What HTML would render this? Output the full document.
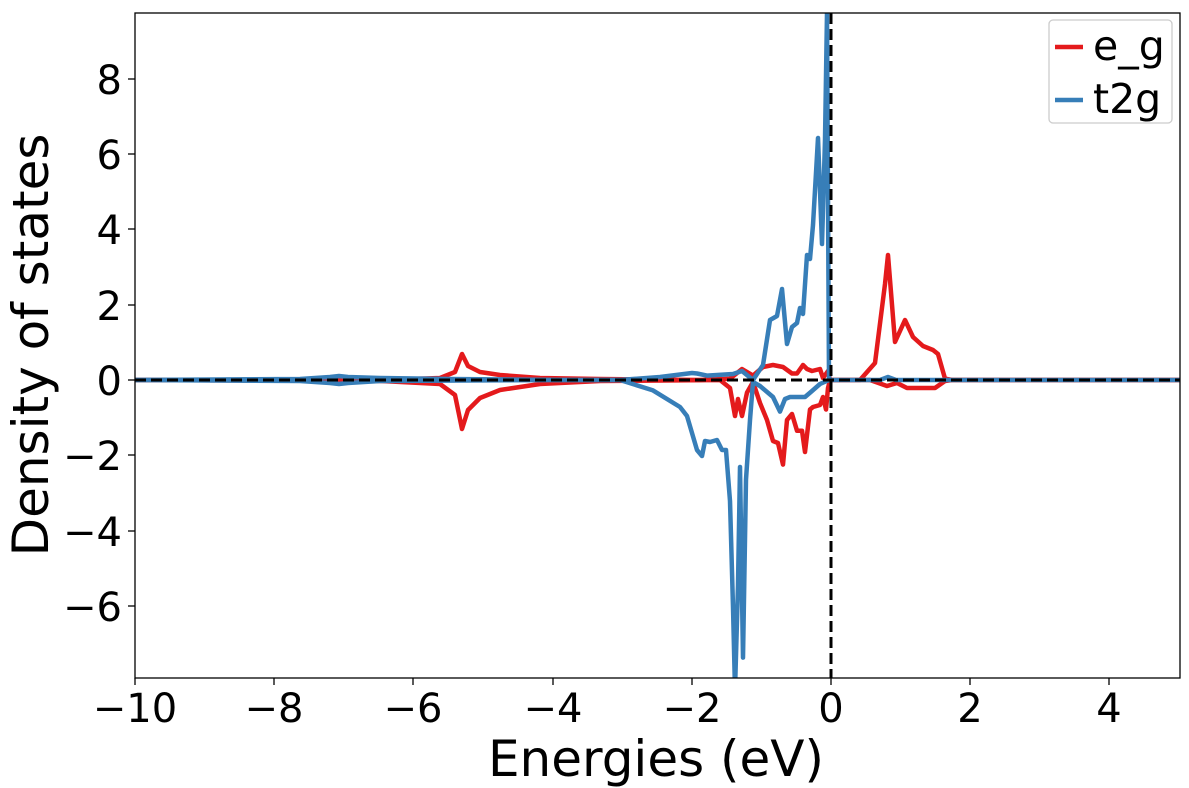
<!DOCTYPE html>
<html><head><style>body{margin:0;background:#fff}svg{display:block}text{font-family:"DejaVu Sans","Liberation Sans",sans-serif;fill:#000}</style></head>
<body>
<svg width="1189" height="788" viewBox="0 0 1189 788" xmlns="http://www.w3.org/2000/svg">
<defs><clipPath id="c"><rect x="135" y="13" width="1045" height="665"/></clipPath></defs>
<g clip-path="url(#c)" fill="none" stroke-width="4.5" stroke-linejoin="round">
<path stroke="#e41a1c" d="M135,380 L380,380 L440,378 L455,372 L462,354 L468,366 L480,372 L500,375 L540,378 L600,379 L700,380 L730,378.7 L742,369 L753,375.6 L763,367 L773,365 L783,367 L792,373.5 L797,373.5 L803,365 L807,369 L812,371 L820,369 L823,378 L828,371 L830,380 L860,380 L875,363 L885,284 L888,255 L895,342 L905,320 L913,337 L923,346 L933,350 L938,354 L945,378.6 L952,380 L1180,380"/>
<path stroke="#e41a1c" d="M135,380 L380,381 L440,384 L455,395 L462,429 L468,410 L480,398 L500,390 L540,384 L600,381 L720,380 L730,388 L735,416 L738,399 L742,416 L747,392.6 L753,382 L760,403 L767,420 L773,441 L778,443 L783,464.6 L787,420 L792,414 L797,430.7 L802,430.7 L805,452 L810,409.5 L813,407 L820,405 L823,397 L826,409.5 L828,388 L830,380 L870,380 L887,386 L897,383 L907,388 L935,388 L945,381 L952,380 L1180,380"/>
<path stroke="#377eb8" d="M135,380 L300,379 L330,377 L339,376 L348,377 L380,378 L450,379 L560,380 L620,380 L660,377 L692,373 L697,373.5 L707,375.6 L733,374 L742,371 L753,380 L763,365 L770,320 L777,316 L782,289 L787,344 L792,327 L797,323 L800,308 L803,314 L807,255 L810,259 L813,225 L818,138 L822,244 L825,140 L827,13 L829,380 L880,380 L888,377 L896,380 L1180,380"/>
<path stroke="#377eb8" d="M135,380 L300,381 L330,383 L339,384 L348,383 L380,381 L560,380 L620,380 L653,390.4 L680,407 L687,416 L697,450 L702,456 L705,441 L710,442 L717,440 L722,450 L726,450 L730,501 L733,607 L735,690 L738,585.5 L740,467 L743,657.6 L746,479.5 L750,420 L753,382 L760,386 L773,397 L780,411.6 L785,399 L790,397 L800,397 L805,397 L812,391 L820,384 L829,380"/>
<line x1="135" y1="380" x2="1180" y2="380" stroke="#000" stroke-width="3" stroke-dasharray="11,5"/>
<line x1="831" y1="13" x2="831" y2="678" stroke="#000" stroke-width="3" stroke-dasharray="11,5"/>
</g>
<rect x="135" y="13" width="1045" height="665" fill="none" stroke="#000" stroke-width="1.3"/>
<g stroke="#000" stroke-width="1.3">
<line x1="135" y1="678" x2="135" y2="685"/><line x1="274" y1="678" x2="274" y2="685"/><line x1="413" y1="678" x2="413" y2="685"/><line x1="553" y1="678" x2="553" y2="685"/><line x1="692" y1="678" x2="692" y2="685"/><line x1="831" y1="678" x2="831" y2="685"/><line x1="970" y1="678" x2="970" y2="685"/><line x1="1109" y1="678" x2="1109" y2="685"/>
<line x1="128" y1="79" x2="135" y2="79"/><line x1="128" y1="154" x2="135" y2="154"/><line x1="128" y1="229" x2="135" y2="229"/><line x1="128" y1="305" x2="135" y2="305"/><line x1="128" y1="380" x2="135" y2="380"/><line x1="128" y1="455" x2="135" y2="455"/><line x1="128" y1="531" x2="135" y2="531"/><line x1="128" y1="606" x2="135" y2="606"/>
</g>
<g font-size="40" text-anchor="middle">
<text x="135" y="722">−10</text><text x="274" y="722">−8</text><text x="413" y="722">−6</text><text x="553" y="722">−4</text><text x="692" y="722">−2</text><text x="831" y="722">0</text><text x="970" y="722">2</text><text x="1109" y="722">4</text>
</g>
<g font-size="40" text-anchor="end">
<text x="122" y="94">8</text><text x="122" y="169">6</text><text x="122" y="244">4</text><text x="122" y="320">2</text><text x="122" y="395">0</text><text x="122" y="470">−2</text><text x="122" y="546">−4</text><text x="122" y="621">−6</text>
</g>
<text x="656" y="776" font-size="50" text-anchor="middle">Energies (eV)</text>
<text transform="translate(48,345) rotate(-90)" font-size="50" text-anchor="middle">Density of states</text>
<rect x="1049" y="20" width="123" height="103" rx="4" fill="#fff" stroke="#ccc" stroke-width="1.3"/>
<line x1="1055" y1="47" x2="1083" y2="47" stroke="#e41a1c" stroke-width="4.5"/>
<line x1="1055" y1="100" x2="1083" y2="100" stroke="#377eb8" stroke-width="4.5"/>
<text x="1093" y="60" font-size="41">e_g</text>
<text x="1093" y="113" font-size="41">t2g</text>
</svg>
</body></html>
